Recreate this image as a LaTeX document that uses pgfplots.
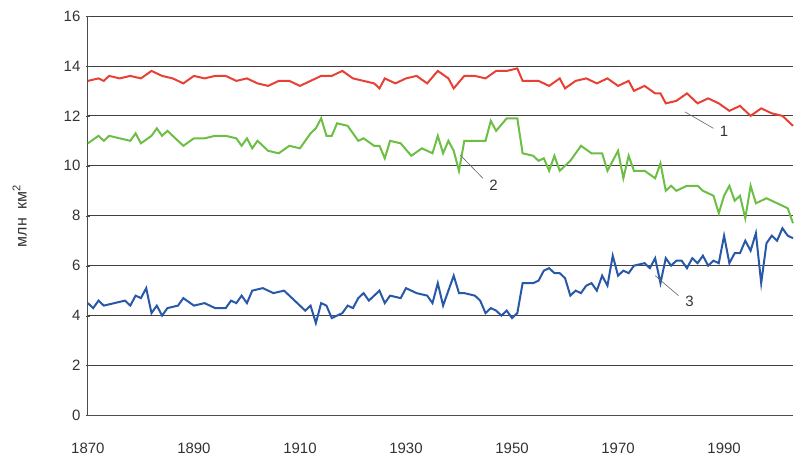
\documentclass[border=0pt]{standalone}
\usepackage{fontspec}
\setmainfont{Liberation Sans}
\usepackage{pgfplots}
\pgfplotsset{compat=1.18}
\begin{document}
\begin{tikzpicture}
\begin{axis}[
  width=706pt, height=400pt, scale only axis,
  xmin=1870, xmax=2003, ymin=0, ymax=16,
  axis x line=bottom, axis y line=left,
  axis line style={black!70, line width=0.8pt, -},
  xtick={1870,1890,...,1990}, ytick={0,2,...,16},
  x tick label style={/pgf/number format/1000 sep={}},
  /pgf/number format/assume math mode=true,
  tick label style={font=\fontsize{15}{17}\selectfont, text=black!80},
  xticklabel style={yshift=-22pt},
  yticklabel style={xshift=-2pt},
  ymajorgrids, grid style={black!75, line width=0.8pt},
  major tick length=4pt, tick style={black!70},
  xtick style={draw=none},
  ylabel={\fontsize{16}{18}\selectfont млн\ \ км\textsuperscript{2}},
  ylabel style={text=black!80, yshift=30pt},
  clip=false,
]
\addplot[color={rgb,255:red,232;green,64;blue,52}, line width=2pt] coordinates {
(1870,13.4)(1872,13.5)(1873,13.4)(1874,13.6)(1876,13.5)(1878,13.6)(1880,13.5)(1882,13.8)(1884,13.6)(1886,13.5)(1888,13.3)(1890,13.6)(1892,13.5)(1894,13.6)(1896,13.6)(1898,13.4)(1900,13.5)(1902,13.3)(1904,13.2)(1906,13.4)(1908,13.4)(1910,13.2)(1912,13.4)(1914,13.6)(1916,13.6)(1918,13.8)(1920,13.5)(1922,13.4)(1924,13.3)(1925,13.1)(1926,13.5)(1928,13.3)(1930,13.5)(1932,13.6)(1934,13.3)(1936,13.8)(1938,13.5)(1939,13.1)(1941,13.6)(1943,13.6)(1945,13.5)(1947,13.8)(1949,13.8)(1951,13.9)(1952,13.4)(1955,13.4)(1957,13.2)(1959,13.5)(1960,13.1)(1962,13.4)(1964,13.5)(1966,13.3)(1968,13.5)(1970,13.2)(1972,13.4)(1973,13.0)(1975,13.2)(1977,12.9)(1978,12.9)(1979,12.5)(1981,12.6)(1983,12.9)(1985,12.5)(1987,12.7)(1989,12.5)(1991,12.2)(1993,12.4)(1995,12.0)(1997,12.3)(1999,12.1)(2001,12.0)(2003,11.6)};
\addplot[color={rgb,255:red,108;green,190;blue,69}, line width=2pt] coordinates {
(1870,10.9)(1872,11.2)(1873,11.0)(1874,11.2)(1876,11.1)(1878,11.0)(1879,11.3)(1880,10.9)(1882,11.2)(1883,11.5)(1884,11.2)(1885,11.4)(1887,11.0)(1888,10.8)(1890,11.1)(1892,11.1)(1894,11.2)(1896,11.2)(1898,11.1)(1899,10.8)(1900,11.1)(1901,10.7)(1902,11.0)(1904,10.6)(1906,10.5)(1908,10.8)(1910,10.7)(1912,11.3)(1913,11.5)(1914,11.9)(1915,11.2)(1916,11.2)(1917,11.7)(1919,11.6)(1921,11.0)(1922,11.1)(1924,10.8)(1925,10.8)(1926,10.3)(1927,11.0)(1929,10.9)(1931,10.4)(1933,10.7)(1935,10.5)(1936,11.2)(1937,10.5)(1938,11.0)(1939,10.6)(1940,9.8)(1941,11.0)(1945,11.0)(1946,11.8)(1947,11.4)(1949,11.9)(1951,11.9)(1952,10.5)(1954,10.4)(1955,10.2)(1956,10.3)(1957,9.8)(1958,10.4)(1959,9.8)(1961,10.2)(1963,10.8)(1965,10.5)(1967,10.5)(1968,9.8)(1969,10.2)(1970,10.6)(1971,9.5)(1972,10.4)(1973,9.8)(1975,9.8)(1977,9.5)(1978,10.1)(1979,9.0)(1980,9.2)(1981,9.0)(1983,9.2)(1985,9.2)(1986,9.0)(1988,8.8)(1989,8.1)(1990,8.8)(1991,9.2)(1992,8.6)(1993,8.8)(1994,7.9)(1995,9.2)(1996,8.5)(1998,8.7)(2000,8.5)(2002,8.3)(2003,7.7)};
\addplot[color={rgb,255:red,40;green,88;blue,168}, line width=2pt] coordinates {
(1870,4.5)(1871,4.3)(1872,4.6)(1873,4.4)(1875,4.5)(1877,4.6)(1878,4.4)(1879,4.8)(1880,4.7)(1881,5.1)(1882,4.1)(1883,4.4)(1884,4.0)(1885,4.3)(1887,4.4)(1888,4.7)(1890,4.4)(1892,4.5)(1894,4.3)(1896,4.3)(1897,4.6)(1898,4.5)(1899,4.8)(1900,4.5)(1901,5.0)(1903,5.1)(1905,4.9)(1907,5.0)(1909,4.6)(1910,4.4)(1911,4.2)(1912,4.4)(1913,3.7)(1914,4.5)(1915,4.4)(1916,3.9)(1918,4.1)(1919,4.4)(1920,4.3)(1921,4.7)(1922,4.9)(1923,4.6)(1924,4.8)(1925,5.0)(1926,4.5)(1927,4.8)(1929,4.7)(1930,5.1)(1932,4.9)(1934,4.8)(1935,4.5)(1936,5.3)(1937,4.4)(1938,5.0)(1939,5.6)(1940,4.9)(1941,4.9)(1943,4.8)(1944,4.6)(1945,4.1)(1946,4.3)(1947,4.2)(1948,4.0)(1949,4.2)(1950,3.9)(1951,4.1)(1952,5.3)(1954,5.3)(1955,5.4)(1956,5.8)(1957,5.9)(1958,5.7)(1959,5.7)(1960,5.5)(1961,4.8)(1962,5.0)(1963,4.9)(1964,5.2)(1965,5.3)(1966,5.0)(1967,5.6)(1968,5.2)(1969,6.4)(1970,5.6)(1971,5.8)(1972,5.7)(1973,6.0)(1975,6.1)(1976,5.9)(1977,6.3)(1978,5.3)(1979,6.3)(1980,6.0)(1981,6.2)(1982,6.2)(1983,5.9)(1984,6.3)(1985,6.1)(1986,6.4)(1987,6.0)(1988,6.2)(1989,6.1)(1990,7.2)(1991,6.1)(1992,6.5)(1993,6.5)(1994,7.0)(1995,6.6)(1996,7.3)(1997,5.3)(1998,6.9)(1999,7.2)(2000,7.0)(2001,7.5)(2002,7.2)(2003,7.1)};
\draw[black!60, line width=0.6pt] (axis cs:1982.6,12.16) -- (axis cs:1988,11.5);
\node[font=\fontsize{15}{17}\selectfont, text=black!80] at (axis cs:1990,11.36) {1};
\draw[black!60, line width=0.6pt] (axis cs:1940.2,10.44) -- (axis cs:1944.5,9.5);
\node[font=\fontsize{15}{17}\selectfont, text=black!80] at (axis cs:1946.5,9.2) {2};
\draw[black!60, line width=0.6pt] (axis cs:1977,5.6) -- (axis cs:1981.4,4.8);
\node[font=\fontsize{15}{17}\selectfont, text=black!80] at (axis cs:1983.5,4.56) {3};
\end{axis}
\useasboundingbox (current axis.south west) ++(-88pt,-56pt) rectangle ++(794pt,472pt);
\end{tikzpicture}
\end{document}
